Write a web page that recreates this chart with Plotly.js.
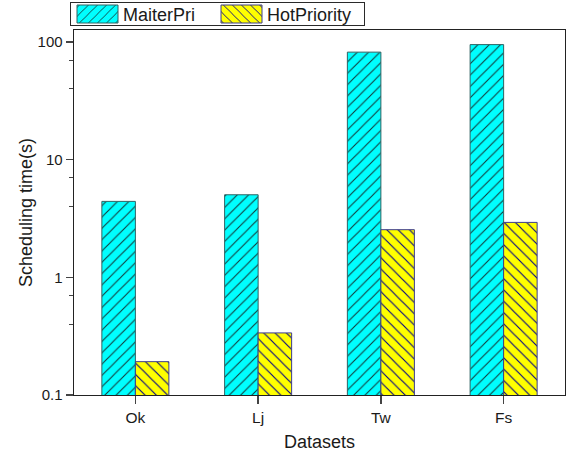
<!DOCTYPE html>
<html>
<head>
<meta charset="utf-8">
<script src="https://cdn.plot.ly/plotly-3.0.1.min.js"></script>
<style>html,body{margin:0;padding:0;background:#fff;}#chart{width:579px;height:455px;}</style>
</head>
<body>
<div id="chart"></div>
<script>
const categories = ["Ok", "Lj", "Tw", "Fs"];
const maiterPri = [4.42, 5.03, 82, 95];
const hotPriority = [0.192, 0.337, 2.54, 2.93];
const yTickVals = [0.1, 1, 10, 100];
const yTickText = ["0.1", "1", "10", "100"];
const yMinorVals = [0.4, 0.7, 4, 7, 40, 70];

const font = "Arial, 'Liberation Sans', sans-serif";
const traces = [
  {
    type: "bar", name: "MaiterPri", x: categories, y: maiterPri,
    marker: {
      color: "#00ffff",
      line: {color: "#2f6262", width: 1},
      pattern: {shape: "/", fgcolor: "#123c3c", bgcolor: "#00ffff", size: 8, solidity: 0.14}
    }
  },
  {
    type: "bar", name: "HotPriority", x: categories, y: hotPriority,
    marker: {
      color: "#ffff00",
      line: {color: "#3c3c8c", width: 1},
      pattern: {shape: "\\", fgcolor: "#00008b", bgcolor: "#ffff00", size: 8, solidity: 0.14}
    }
  }
];
const layout = {
  width: 579, height: 455,
  margin: {l: 74, r: 14, t: 30, b: 60},
  paper_bgcolor: "#fff", plot_bgcolor: "#fff",
  font: {family: font, color: "#1a1a1a", size: 15},
  barmode: "group", bargap: 0.454, bargroupgap: 0,
  showlegend: true,
  legend: {
    orientation: "h", x: 0, xanchor: "left", y: 1, yanchor: "top",
    bordercolor: "#2a2a2a", borderwidth: 1.4, font: {size: 18, family: font},
    itemwidth: 41, tracegroupgap: 0, bgcolor: "#fff"
  },
  xaxis: {
    type: "category", range: [-0.5, 3.5],
    showline: true, linecolor: "#222", linewidth: 1.4, mirror: true,
    ticks: "outside", ticklen: 8, tickwidth: 1.3, tickcolor: "#444",
    showgrid: false, zeroline: false,
    tickfont: {size: 15.5, family: font},
    title: {text: "Datasets", font: {size: 18, family: font}, standoff: 10}
  },
  yaxis: {
    type: "log", range: [-1, 2.102],
    showline: true, linecolor: "#222", linewidth: 1.4, mirror: true,
    ticks: "outside", ticklen: 7, tickwidth: 1.3, tickcolor: "#444",
    tickmode: "array", tickvals: yTickVals, ticktext: yTickText,
    minor: {tickmode: "array", tickvals: yMinorVals, ticks: "outside", ticklen: 4, tickwidth: 1.2, tickcolor: "#444", showgrid: false},
    showgrid: false, zeroline: false,
    tickfont: {size: 15, family: font},
    title: {text: "Scheduling time(s)", font: {size: 18, family: font}, standoff: 0}
  }
};
Plotly.newPlot("chart", traces, layout, {staticPlot: true, displayModeBar: false}).then(function(gd){
  const leg = document.querySelector("#chart g.legend");
  if (!leg) return;
  leg.setAttribute("transform", "translate(70,2)");
  const bg = leg.querySelector("rect.bg");
  if (bg) {
    bg.setAttribute("x", 0.7); bg.setAttribute("y", 0.7);
    bg.setAttribute("width", 294); bg.setAttribute("height", 22.6);
  }
  const sb = leg.querySelector("g.scrollbox");
  if (sb) { sb.removeAttribute("clip-path"); sb.setAttribute("transform", ""); }
  const groups = leg.querySelectorAll("g.groups");
  groups.forEach(function(g){ g.setAttribute("transform", ""); });
  const tr = leg.querySelectorAll("g.traces");
  const xs = [2, 146];
  tr.forEach(function(t, i){ t.setAttribute("transform", "translate(" + xs[i] + ",12)"); });
  leg.querySelectorAll("g.legendpoints path").forEach(function(p){
    p.setAttribute("d", "M20.5,9H-20.5V-9H20.5Z");
  });
});
</script>
</body>
</html>
